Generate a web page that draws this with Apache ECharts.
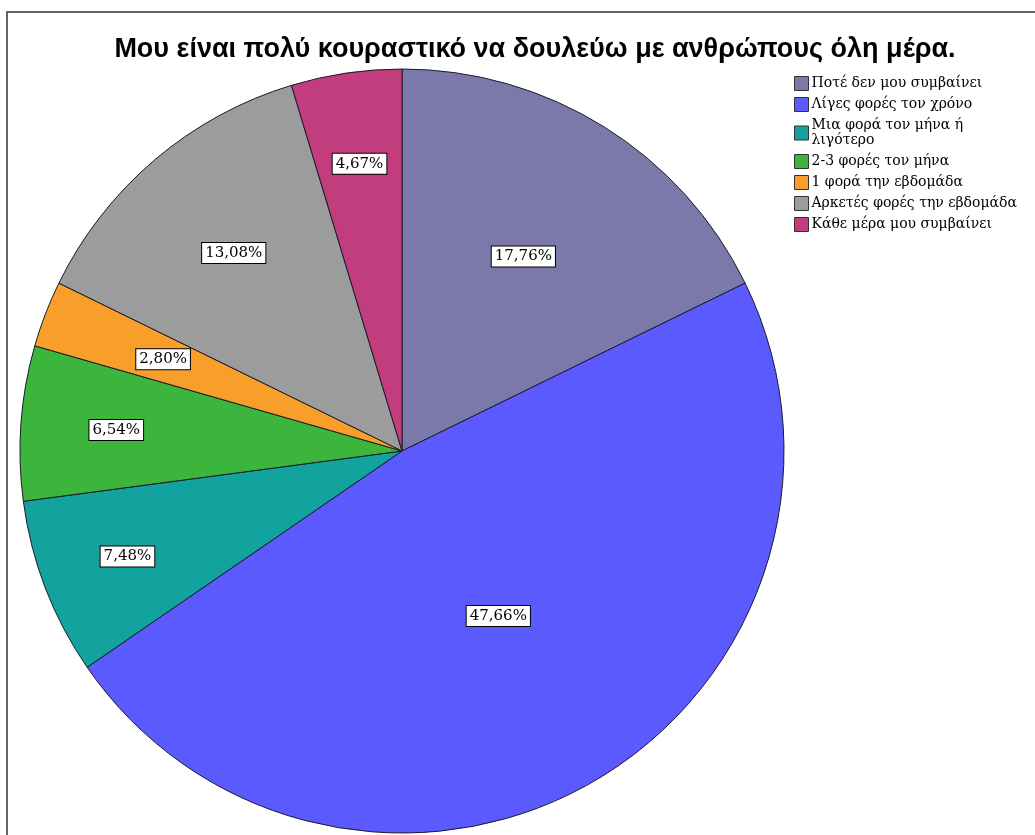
<!DOCTYPE html>
<html lang="el" style="height: 100%">
<head>
  <meta charset="utf-8">
</head>
<body style="height: 100%; margin: 0; background: #fff">
  <div id="container" style="width: 1035px; height: 835px"></div>

  <script type="text/javascript" src="https://cdn.jsdelivr.net/npm/echarts@6/dist/echarts.min.js"></script>

  <script type="text/javascript">
    // δεδομένα (πλήθος απαντήσεων, n = 107)
    var categories = [
      'Ποτέ δεν μου συμβαίνει',
      'Λίγες φορές τον χρόνο',
      'Μια φορά τον μήνα ή λιγότερο',
      '2-3 φορές τον μήνα',
      '1 φορά την εβδομάδα',
      'Αρκετές φορές την εβδομάδα',
      'Κάθε μέρα μου συμβαίνει'
    ];
    var counts = [19, 51, 8, 7, 3, 14, 5];

    var colors = ['#7a79aa', '#5a5aff', '#12a39e', '#3cb53c', '#f79e2b', '#9c9c9c', '#c23d7d'];
    // where each label sits, as a fraction of the radius (SPSS style placement)
    var labelRadius = [0.6, 0.5, 0.77, 0.75, 0.67, 0.68, 0.76];

    var CX = 402, CY = 451, R = 382;

    var total = counts.reduce(function (a, b) { return a + b; }, 0);

    var dom = document.getElementById('container');
    var myChart = echarts.init(dom, null, { renderer: 'canvas' });

    var option = {
      animation: false,
      color: colors,
      title: {
        text: 'Μου είναι πολύ κουραστικό να δουλεύω με ανθρώπους όλη μέρα.',
        left: 530,
        textAlign: 'center',
        top: 31,
        textStyle: {
          fontFamily: 'Liberation Sans, Arial, sans-serif',
          fontWeight: 'bold',
          fontSize: 27,
          color: '#000'
        }
      },
      legend: {
        orient: 'vertical',
        left: 789,
        top: 71,
        itemWidth: 14,
        itemHeight: 14,
        itemGap: 6,
        icon: 'rect',
        selectedMode: false,
        data: categories,
        itemStyle: { borderColor: '#333', borderWidth: 1 },
        formatter: function (name) {
          return name.replace(' ή ', ' ή\n');
        },
        textStyle: {
          fontFamily: 'DejaVu Serif, serif',
          fontSize: 14,
          lineHeight: 15,
          color: '#000',
          padding: [0, 0, 0, -2]
        }
      },
      graphic: [{
        type: 'rect',
        shape: { x: 7, y: 12, width: 1100, height: 1000 },
        style: { fill: 'none', stroke: '#666', lineWidth: 2 },
        silent: true,
        z: 100
      }],
      series: [{
        type: 'pie',
        center: [CX, CY],
        radius: R,
        startAngle: 90,
        clockwise: true,
        silent: true,
        avoidLabelOverlap: false,
        itemStyle: { borderColor: '#1a1a2a', borderWidth: 1 },
        label: {
          show: true,
          position: 'inside',
          formatter: function (p) {
            return (p.value / total * 100).toFixed(2).replace('.', ',') + '%';
          },
          fontFamily: 'DejaVu Serif, serif',
          fontSize: 15,
          color: '#000',
          backgroundColor: '#fff',
          borderColor: '#000',
          borderWidth: 1,
          padding: [3, 3, 2, 3]
        },
        labelLine: { show: false },
        labelLayout: function (params) {
          var rc = params.labelRect;
          var lx = rc.x + rc.width / 2, ly = rc.y + rc.height / 2;
          var vx = lx - CX, vy = ly - CY;
          var d = Math.sqrt(vx * vx + vy * vy) || 1;
          var target = labelRadius[params.dataIndex] * R;
          return { dx: vx / d * (target - d), dy: vy / d * (target - d) };
        },
        data: categories.map(function (name, i) {
          return { name: name, value: counts[i] };
        })
      }]
    };

    myChart.setOption(option);
    window.addEventListener('resize', myChart.resize);
  </script>
</body>
</html>
